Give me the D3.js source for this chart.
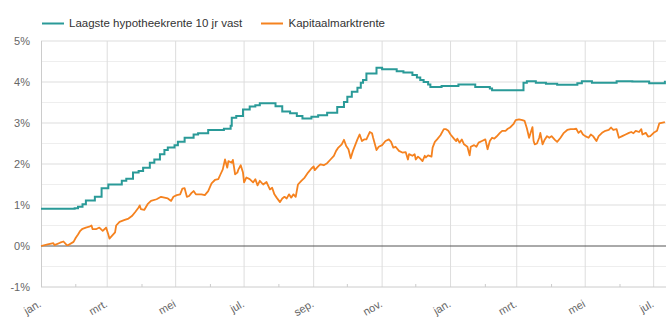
<!DOCTYPE html>
<html>
<head>
<meta charset="utf-8">
<script src="https://cdn.jsdelivr.net/npm/d3@7"></script>
<style>
  html, body { margin: 0; padding: 0; background: #fff; }
  svg { display: block; font-family: "Liberation Sans", Arial, sans-serif; }
</style>
</head>
<body>
<svg id="chart" width="666" height="329"></svg>
<script>
// Dag 0 = 1 januari 2022; elke reeks is een lijst dagnummers met bijbehorende rente (%)
const startDatum = new Date(2022, 0, 1);
const eindDatum = new Date(2023, 6, 12);

const hypotheekDagen = [0, 30, 33, 37, 40, 48, 54, 60, 72, 76, 82, 87, 91, 97, 101, 106, 110, 113, 119, 122, 128, 136, 140, 149, 163, 169, 170, 174, 180, 186, 191, 195, 209, 215, 222, 228, 233, 241, 247, 255, 264, 270, 273, 277, 282, 285, 287, 290, 299, 304, 317, 323, 331, 335, 338, 341, 345, 347, 357, 372, 387, 400, 402, 430, 433, 441, 450, 460, 478, 482, 491, 513, 527, 542, 556];
const hypotheekRente = [0.91, 0.92, 0.96, 1.02, 1.11, 1.20, 1.41, 1.50, 1.59, 1.64, 1.79, 1.83, 1.91, 2.03, 2.11, 2.24, 2.34, 2.40, 2.46, 2.54, 2.64, 2.72, 2.75, 2.83, 2.86, 2.93, 3.13, 3.17, 3.33, 3.40, 3.43, 3.48, 3.41, 3.28, 3.24, 3.17, 3.11, 3.15, 3.19, 3.25, 3.39, 3.51, 3.64, 3.76, 3.86, 3.98, 4.05, 4.21, 4.35, 4.31, 4.26, 4.23, 4.17, 4.11, 4.05, 4.00, 3.94, 3.88, 3.90, 3.94, 3.88, 3.84, 3.80, 3.98, 4.02, 3.98, 3.96, 3.93, 3.97, 4.02, 3.98, 4.02, 4.01, 3.97, 4.03];

const kapitaalDagen = [0, 6, 11, 12, 17, 20, 23, 24, 29, 31, 33, 35, 37, 40, 43, 45, 46, 49, 52, 55, 57, 58, 60, 61, 63, 66, 67, 70, 74, 78, 81, 84, 87, 88, 89, 92, 95, 98, 103, 107, 110, 113, 116, 118, 121, 124, 126, 128, 130, 132, 134, 136, 138, 143, 146, 149, 152, 155, 158, 160, 162, 164, 166, 167, 170, 171, 173, 175, 176, 178, 180, 181, 183, 186, 189, 191, 193, 195, 198, 201, 204, 206, 208, 210, 213, 215, 217, 219, 221, 223, 225, 227, 229, 232, 235, 238, 241, 243, 244, 247, 249, 252, 255, 258, 261, 263, 265, 268, 270, 272, 274, 276, 278, 280, 282, 284, 286, 288, 290, 293, 295, 296, 299, 301, 304, 307, 310, 312, 314, 316, 319, 322, 325, 327, 328, 331, 333, 334, 336, 338, 340, 342, 343, 345, 348, 349, 351, 353, 356, 359, 361, 363, 365, 368, 370, 371, 373, 375, 377, 380, 382, 383, 386, 388, 390, 393, 396, 398, 400, 402, 404, 406, 409, 411, 414, 416, 418, 421, 423, 426, 429, 431, 433, 435, 438, 439, 440, 442, 444, 445, 447, 449, 451, 453, 455, 458, 460, 463, 466, 469, 472, 475, 477, 479, 481, 483, 485, 488, 490, 492, 495, 497, 500, 503, 506, 508, 510, 513, 515, 518, 521, 524, 526, 528, 530, 533, 535, 536, 539, 541, 543, 546, 549, 551, 554, 556];
const kapitaalRente = [0.00, 0.04, 0.07, 0.02, 0.08, 0.11, 0.02, 0.02, 0.10, 0.20, 0.28, 0.37, 0.42, 0.45, 0.47, 0.50, 0.41, 0.41, 0.45, 0.37, 0.42, 0.45, 0.28, 0.18, 0.24, 0.33, 0.50, 0.59, 0.63, 0.67, 0.73, 0.83, 0.94, 0.99, 0.90, 0.88, 1.02, 1.10, 1.14, 1.20, 1.18, 1.16, 1.10, 1.20, 1.24, 1.26, 1.40, 1.41, 1.20, 1.22, 1.29, 1.34, 1.26, 1.26, 1.24, 1.34, 1.53, 1.61, 1.63, 1.75, 1.87, 2.11, 1.91, 2.07, 2.03, 2.10, 1.75, 1.79, 1.87, 1.97, 1.79, 1.55, 1.67, 1.63, 1.55, 1.63, 1.48, 1.59, 1.50, 1.56, 1.38, 1.42, 1.26, 1.18, 1.07, 1.16, 1.20, 1.16, 1.26, 1.18, 1.26, 1.20, 1.50, 1.59, 1.67, 1.79, 1.89, 1.94, 1.85, 1.94, 1.99, 1.97, 2.02, 2.11, 2.20, 2.32, 2.40, 2.48, 2.59, 2.44, 2.36, 2.14, 2.32, 2.46, 2.60, 2.72, 2.56, 2.60, 2.60, 2.78, 2.75, 2.64, 2.34, 2.42, 2.46, 2.56, 2.60, 2.54, 2.40, 2.42, 2.32, 2.28, 2.29, 2.11, 2.24, 2.20, 2.24, 2.11, 2.18, 2.13, 2.07, 2.20, 2.16, 2.21, 2.18, 2.40, 2.54, 2.60, 2.70, 2.85, 2.85, 2.81, 2.72, 2.62, 2.56, 2.62, 2.52, 2.60, 2.48, 2.42, 2.21, 2.42, 2.46, 2.42, 2.52, 2.56, 2.60, 2.36, 2.56, 2.64, 2.62, 2.67, 2.76, 2.81, 2.81, 2.86, 2.89, 2.97, 3.07, 3.09, 3.07, 3.05, 2.87, 2.64, 2.90, 2.56, 2.48, 2.50, 2.64, 2.76, 2.48, 2.60, 2.68, 2.64, 2.68, 2.59, 2.54, 2.64, 2.76, 2.83, 2.85, 2.85, 2.86, 2.76, 2.81, 2.72, 2.68, 2.64, 2.72, 2.68, 2.56, 2.68, 2.76, 2.81, 2.83, 2.89, 2.83, 2.85, 2.64, 2.68, 2.72, 2.76, 2.78, 2.75, 2.81, 2.78, 2.85, 2.72, 2.76, 2.67, 2.68, 2.76, 2.81, 2.99, 3.01, 3.02];

const reeksNamen = ["Laagste hypotheekrente 10 jr vast", "Kapitaalmarktrente"];
const reeksKleuren = ["#2a9a98", "#f5821f"];
const maandLabels = ["jan.", "mrt.", "mei", "jul.", "sep.", "nov.", "jan.", "mrt.", "mei", "jul."];
const yTickWaarden = [-1, 0, 1, 2, 3, 4, 5];
const yTickLabels = ["-1%", "0%", "1%", "2%", "3%", "4%", "5%"];

const svg = d3.select("#chart");
const plot = { left: 41, right: 666, top: 41, bottom: 287 };

const x = d3.scaleTime().domain([startDatum, eindDatum]).range([plot.left, plot.right]);
const y = d3.scaleLinear().domain([-1, 5]).range([plot.bottom, plot.top]);

const dag = n => d3.timeDay.offset(startDatum, n);
const hypotheek = hypotheekDagen.map((d, i) => ({ datum: dag(d), waarde: hypotheekRente[i] }));
const kapitaal = kapitaalDagen.map((d, i) => ({ datum: dag(d), waarde: kapitaalRente[i] }));

// horizontale rasterlijnen: lichte halve procenten, iets donkerder hele procenten
const halfTicks = d3.range(-0.5, 5, 1);
svg.append("g").selectAll("line").data(halfTicks).join("line")
  .attr("x1", plot.left).attr("x2", plot.right)
  .attr("y1", d => y(d)).attr("y2", d => y(d))
  .attr("stroke", "#eeeeee").attr("stroke-width", 1);
svg.append("g").selectAll("line").data(yTickWaarden.filter(v => v !== 0 && v !== -1)).join("line")
  .attr("x1", plot.left).attr("x2", plot.right)
  .attr("y1", d => y(d)).attr("y2", d => y(d))
  .attr("stroke", "#dddddd").attr("stroke-width", 1);

// verticale rasterlijnen om de twee maanden, kleine streepjes voor de tussenmaanden
const hoofdMaanden = d3.timeMonth.every(2).range(startDatum, eindDatum);
const tussenMaanden = d3.timeMonth.range(startDatum, eindDatum).filter(d => d.getMonth() % 2 === 1);
svg.append("g").selectAll("line").data(hoofdMaanden.slice(1)).join("line")
  .attr("x1", d => x(d)).attr("x2", d => x(d))
  .attr("y1", plot.top).attr("y2", plot.bottom)
  .attr("stroke", "#dddddd").attr("stroke-width", 1);
svg.append("g").selectAll("line").data(tussenMaanden).join("line")
  .attr("x1", d => x(d)).attr("x2", d => x(d))
  .attr("y1", plot.bottom - 3).attr("y2", plot.bottom)
  .attr("stroke", "#cccccc").attr("stroke-width", 1);

// assen
svg.append("line")
  .attr("x1", plot.left + 0.5).attr("x2", plot.left + 0.5)
  .attr("y1", plot.top).attr("y2", plot.bottom)
  .attr("stroke", "#cccccc");
svg.append("line")
  .attr("x1", plot.left).attr("x2", plot.right)
  .attr("y1", y(-1)).attr("y2", y(-1))
  .attr("stroke", "#cccccc");

// y-labels
svg.append("g").selectAll("text").data(yTickWaarden).join("text")
  .attr("x", 30).attr("y", d => y(d) + 4)
  .attr("text-anchor", "end")
  .attr("font-size", 11).attr("fill", "#666")
  .text((d, i) => yTickLabels[i]);

// x-labels, schuin
svg.append("g").selectAll("text").data(hoofdMaanden).join("text")
  .attr("transform", d => `translate(${x(d) + 1},306) rotate(-30)`)
  .attr("text-anchor", "end")
  .attr("font-size", 11).attr("fill", "#666")
  .text((d, i) => maandLabels[i]);

// nullijn
svg.append("line")
  .attr("x1", plot.left).attr("x2", plot.right)
  .attr("y1", y(0)).attr("y2", y(0))
  .attr("stroke", "#555").attr("stroke-width", 1);

// lijnen
const lijnStap = d3.line().x(d => x(d.datum)).y(d => y(d.waarde)).curve(d3.curveStepAfter);
const lijn = d3.line().x(d => x(d.datum)).y(d => y(d.waarde));

svg.append("path").datum(kapitaal)
  .attr("d", lijn).attr("fill", "none")
  .attr("stroke", reeksKleuren[1]).attr("stroke-width", 1.8).attr("stroke-linejoin", "round");
svg.append("path").datum(hypotheek)
  .attr("d", lijnStap).attr("fill", "none")
  .attr("stroke", reeksKleuren[0]).attr("stroke-width", 2);

// legenda
const legenda = [{ x: 42, tx: 69 }, { x: 261, tx: 288.5 }];
legenda.forEach((p, i) => {
  svg.append("line")
    .attr("x1", p.x).attr("x2", p.x + 22)
    .attr("y1", 23.5).attr("y2", 23.5)
    .attr("stroke", reeksKleuren[i]).attr("stroke-width", 2);
  svg.append("text")
    .attr("x", p.tx).attr("y", 27)
    .attr("font-size", 11.5).attr("fill", "#333")
    .text(reeksNamen[i]);
});
</script>
</body>
</html>
